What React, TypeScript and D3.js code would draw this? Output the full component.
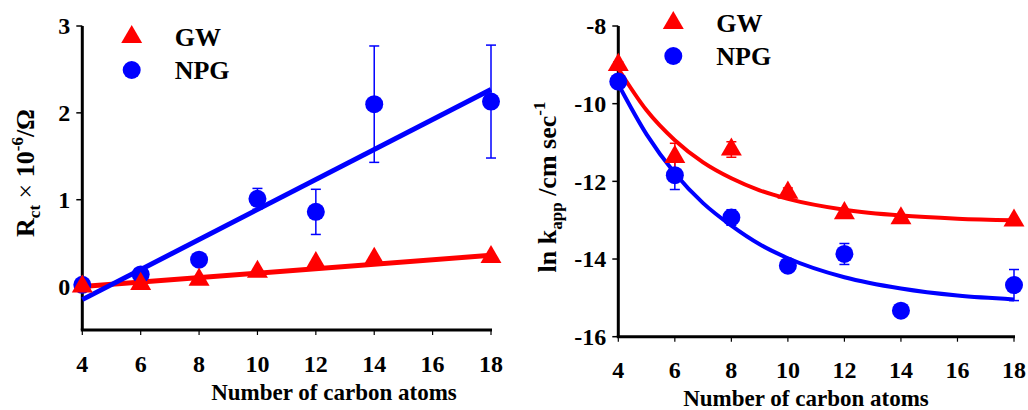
import React from 'react';
import * as d3 from 'd3';

// carbon chain length (x)
const carbons = [4, 6, 8, 10, 12, 14, 18];
const xTicks = [4, 6, 8, 10, 12, 14, 16, 18];

// left panel: Rct x 10^-6 / Ohm
const rctTicks = [0, 1, 2, 3];
const rctGW = [0.0, 0.03, 0.08, 0.17, 0.27, 0.32, 0.34];
const rctGWErr = [0, 0, 0, 0, 0, 0, 0];
const rctNPG = [0.02, 0.14, 0.31, 1.01, 0.86, 2.1, 2.13];
const rctNPGErr = [0, 0, 0, 0.12, 0.26, 0.67, 0.65];
const rctFitX = [4, 18];
const rctGWFit = [0.0, 0.36];
const rctNPGFit = [-0.15, 2.27];

// right panel: ln kapp
const lnkTicks = [-8, -10, -12, -14, -16];
const lnkGW = [-9.0, -11.37, -11.18, -12.29, -12.82, -12.95, -13.01];
const lnkGWErr = [0.08, 0.35, 0.2, 0.12, 0.05, 0.05, 0.05];
const lnkNPG = [-9.43, -11.84, -12.93, -14.17, -13.87, -15.33, -14.67];
const lnkNPGErr = [0, 0.37, 0.2, 0.08, 0.27, 0.05, 0.4];
const lnkFitX = [4, 5, 6, 7, 8, 9, 10, 12, 14, 16, 18];
const lnkGWFit = [-9.1, -10.17, -10.94, -11.51, -11.92, -12.23, -12.45, -12.73, -12.88, -12.96, -13.0];
const lnkNPGFit = [-9.5, -10.79, -11.79, -12.56, -13.14, -13.62, -13.98, -14.47, -14.76, -14.94, -15.04];

const RED = '#ff0000';
const BLUE = '#0000ff';
const FONT = '"Liberation Serif", "Times New Roman", serif';

const tri = d3.symbol().type(d3.symbolTriangle).size(190)()!;

type PanelProps = {
  x0: number; x1: number; yTop: number; yBot: number;
  domain: [number, number];
  yTicks: number[];
  gw: number[]; gwErr: number[];
  npg: number[]; npgErr: number[];
  fitX: number[]; gwFit: number[]; npgFit: number[];
  fitWidth: number;
  curved: boolean;
  tickLabelY: number;
  axisLabelY: number;
  axisLabelX: number;
  legendX: number; legendY: number;
  yLabel: React.ReactNode;
};

const Panel: React.FC<PanelProps> = (p) => {
  const x = d3.scaleLinear().domain([4, 18]).range([p.x0, p.x1]);
  const y = d3.scaleLinear().domain(p.domain).range([p.yBot, p.yTop]);
  const line = d3.line<number>()
    .x((_, i) => x(p.fitX[i]))
    .y(d => y(d))
    .curve(p.curved ? d3.curveMonotoneX : d3.curveLinear);

  const errBars = (vals: number[], errs: number[], color: string) =>
    vals.map((v, i) => errs[i] > 0 ? (
      <g key={'e' + i} stroke={color} strokeWidth={1.5}>
        <line x1={x(carbons[i])} x2={x(carbons[i])} y1={y(v + errs[i])} y2={y(v - errs[i])} />
        <line x1={x(carbons[i]) - 5} x2={x(carbons[i]) + 5} y1={y(v + errs[i])} y2={y(v + errs[i])} />
        <line x1={x(carbons[i]) - 5} x2={x(carbons[i]) + 5} y1={y(v - errs[i])} y2={y(v - errs[i])} />
      </g>
    ) : null);

  return (
    <g fontFamily={FONT} fontWeight="bold">
      {/* axes */}
      <line x1={p.x0} x2={p.x0} y1={p.yTop} y2={p.yBot} stroke="#000" strokeWidth={3} />
      <line x1={p.x0 - 1.5} x2={p.x1 + 1} y1={p.yBot} y2={p.yBot} stroke="#000" strokeWidth={3} />
      {p.yTicks.map(t => (
        <g key={t}>
          <line x1={p.x0 - 6} x2={p.x0} y1={y(t)} y2={y(t)} stroke="#000" strokeWidth={1.5} />
          <text x={p.x0 - 12} y={y(t)} dy="0.35em" textAnchor="end" fontSize={24}>{t}</text>
        </g>
      ))}
      {xTicks.map(t => (
        <g key={t}>
          <line x1={x(t)} x2={x(t)} y1={p.yBot} y2={p.yBot + 5} stroke="#000" strokeWidth={1.2} />
          <text x={x(t)} y={p.tickLabelY} textAnchor="middle" fontSize={24}>{t}</text>
        </g>
      ))}
      <text x={p.axisLabelX} y={p.axisLabelY} textAnchor="middle" fontSize={23}>Number of carbon atoms</text>
      {p.yLabel}

      {/* error bars */}
      {errBars(p.npg, p.npgErr, BLUE)}
      {errBars(p.gw, p.gwErr, RED)}

      {/* fits */}
      <path d={line(p.gwFit)!} fill="none" stroke={RED} strokeWidth={p.fitWidth} />
      <path d={line(p.npgFit)!} fill="none" stroke={BLUE} strokeWidth={p.fitWidth} />

      {/* points */}
      {p.npg.map((v, i) => <circle key={'n' + i} cx={x(carbons[i])} cy={y(v)} r={9} fill={BLUE} />)}
      {p.gw.map((v, i) => <path key={'g' + i} d={tri} transform={`translate(${x(carbons[i])},${y(v)})`} fill={RED} />)}

      {/* legend */}
      <path d={tri} transform={`translate(${p.legendX},${p.legendY})`} fill={RED} />
      <text x={p.legendX + 43} y={p.legendY + 9} fontSize={26}>GW</text>
      <circle cx={p.legendX} cy={p.legendY + 33} r={9} fill={BLUE} />
      <text x={p.legendX + 43} y={p.legendY + 42} fontSize={26}>NPG</text>
    </g>
  );
};

const App: React.FC = () => {
  return (
    <svg width={1028} height={410} style={{ position: 'absolute', left: 0, top: 0, background: '#fff' }}>
      <Panel
        x0={82.3} x1={491} yTop={26} yBot={330}
        domain={[-0.5, 3]}
        yTicks={rctTicks}
        gw={rctGW} gwErr={rctGWErr} npg={rctNPG} npgErr={rctNPGErr}
        fitX={rctFitX} gwFit={rctGWFit} npgFit={rctNPGFit}
        fitWidth={5} curved={false}
        tickLabelY={372} axisLabelX={334} axisLabelY={400}
        legendX={131.7} legendY={37}
        yLabel={
          <text transform="translate(34,173) rotate(-90)" textAnchor="middle" fontSize={26}>
            <tspan>R</tspan>
            <tspan fontSize={17} dy={6}>ct</tspan>
            <tspan dy={-6} fontWeight="normal"> × </tspan>
            <tspan>10</tspan>
            <tspan fontSize={17} dy={-11}>-6</tspan>
            <tspan dy={11}>/Ω</tspan>
          </text>
        }
      />
      <Panel
        x0={618.3} x1={1014} yTop={26} yBot={336.7}
        domain={[-16, -8]}
        yTicks={lnkTicks}
        gw={lnkGW} gwErr={lnkGWErr} npg={lnkNPG} npgErr={lnkNPGErr}
        fitX={lnkFitX} gwFit={lnkGWFit} npgFit={lnkNPGFit}
        fitWidth={4} curved={true}
        tickLabelY={378} axisLabelX={806} axisLabelY={406}
        legendX={673.3} legendY={23}
        yLabel={
          <text transform="translate(556,187) rotate(-90)" textAnchor="middle" fontSize={26}>
            <tspan>ln k</tspan>
            <tspan fontSize={17} dy={6}>app</tspan>
            <tspan dy={-6}> /cm sec</tspan>
            <tspan fontSize={17} dy={-11}>-1</tspan>
          </text>
        }
      />
    </svg>
  );
};

export default App;
